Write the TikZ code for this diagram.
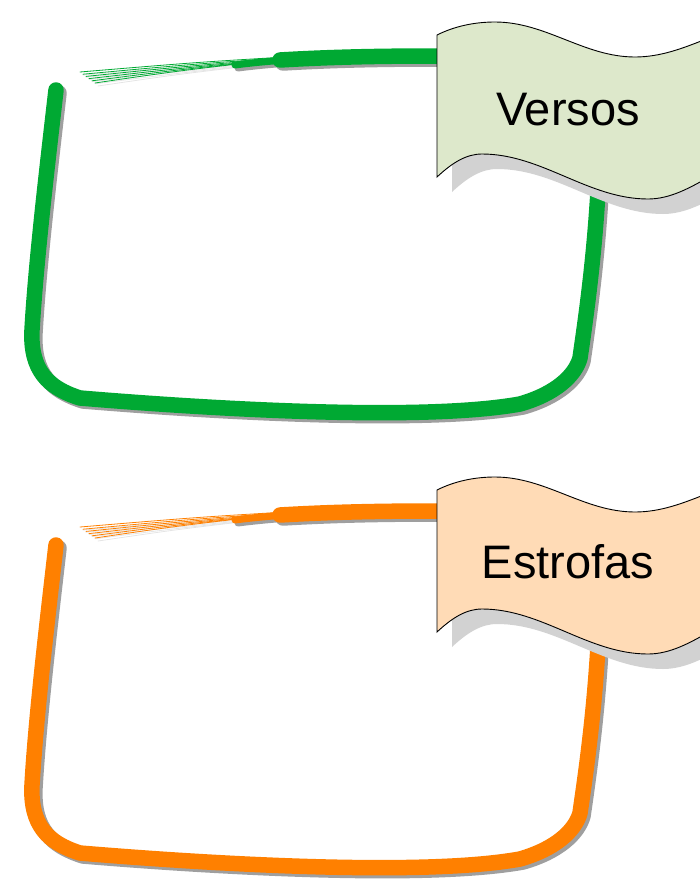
\documentclass[tikz,border=0pt]{standalone}
\usepackage{fontspec}
\setmainfont{Liberation Sans}
\definecolor{framegreen}{HTML}{00A933}
\definecolor{frameorange}{HTML}{FF8000}
\definecolor{flaggreen}{HTML}{DDE8CB}
\definecolor{flagorange}{HTML}{FFDBB6}

\begin{document}
\begin{tikzpicture}[x=1pt,y=-1pt,
    rim/.style={line width=15.5pt, line cap=round, line join=round},
    fan/.style={line width=0.8pt, line cap=round},
    flagbox/.style={draw=black, line width=0.9pt},
    flagshade/.style={},
    flagtext/.style={font=\fontsize{47}{50}\selectfont, text=black}]
  \useasboundingbox (0,0) rectangle (700,884);
  \clip (0,0) rectangle (700,884);
  \foreach \dy/\rimcol/\flagcol/\txt/\ty/\nm in
      {0/framegreen/flaggreen/Versos/110/versos,
       455/frameorange/flagorange/Estrofas/107/estrofas}{
    \begin{scope}[shift={(0,\dy)}]
      % shadow of the frayed end
      \foreach \i in {0,...,5}
        \draw[fan, draw=gray!20, shift={(3,3)}]
          ({320-14*\i},{55+1.5*\i}) .. controls ({200-6*\i},{62+2*\i}) .. ({80+3*\i},{72+2.2*\i});
      % hand drawn frame, shadow first
      \foreach \off/\c in {3/gray!75, 0/\rimcol}{
        \draw[rim, draw=\c, shift={(\off,\off)}]
          (56,90) .. controls (48,160) and (36,260) .. (32,330)
          .. controls (30,370) and (48,388) .. (80,398)
          .. controls (200,408) and (420,422) .. (520,404)
          .. controls (555,394) and (575,376) .. (580,358)
          .. controls (590,290) and (597,230) .. (600,150)
          .. controls (602,90) and (560,56) .. (437,56)
          .. controls (380,56) and (330,57) .. (280,60);
        \draw[draw=\c, line width=7pt, line cap=round, shift={(\off,\off)}]
          (300,59) .. controls (270,61) and (250,63) .. (235,65);
      }
      % frayed end of the stroke
      \foreach \i in {0,...,5}
        \draw[fan, draw=\rimcol]
          ({320-14*\i},{55+1.5*\i}) .. controls ({200-6*\i},{62+2*\i}) .. ({80+3*\i},{72+2.2*\i});
      % flag with its shadow
      \foreach \off/\c/\s in {15/gray!35/flagshade, 0/\flagcol/flagbox}{
        \path[fill=\c, \s, shift={(\off,\off)}]
          (437,35) .. controls (455,26) and (475,22) .. (495,22)
          .. controls (546,22) and (584,57) .. (635,57)
          .. controls (686,57) and (724,22) .. (775,22)
          -- (770,155)
          .. controls (726,155) and (692,199) .. (648,199)
          .. controls (588,199) and (542,154) .. (482,154)
          .. controls (466,154) and (452,163) .. (437,177) -- cycle;
      }
      \node[flagtext] (\nm) at (568,\ty) {\txt};
    \end{scope}
  }
\end{tikzpicture}
\end{document}
